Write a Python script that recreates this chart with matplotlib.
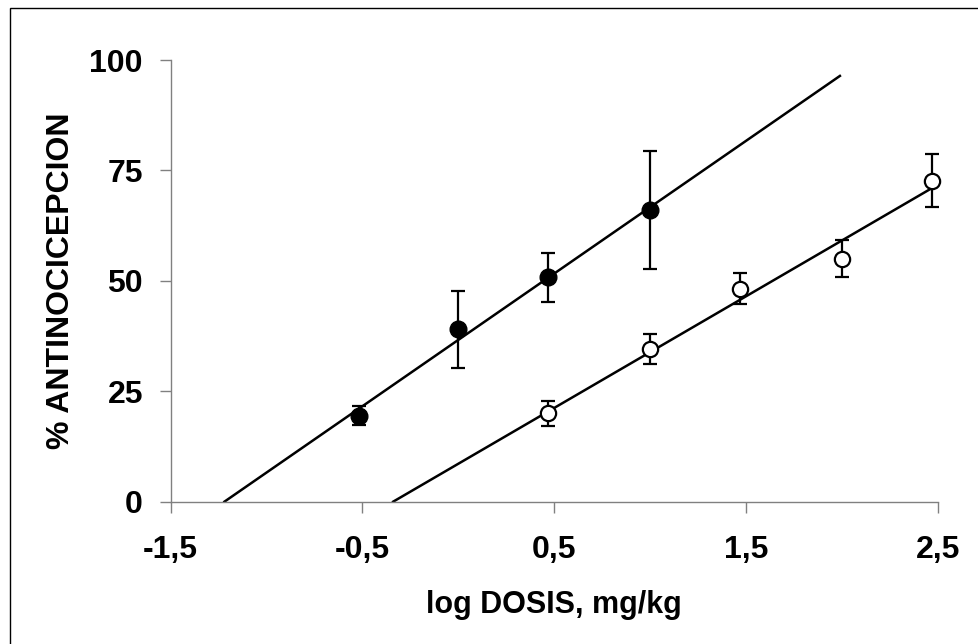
import matplotlib
matplotlib.use("Agg")
import matplotlib.pyplot as plt
from matplotlib.patches import Rectangle

plt.rcParams["font.family"] = ["Liberation Sans", "DejaVu Sans"]

# filled circles
filled_x = [-0.52, 0.0, 0.47, 1.0]
filled_y = [19.5, 39.0, 50.8, 66.1]
filled_err = [2.2, 8.8, 5.5, 13.4]
filled_fit_x = [-1.22, 1.99]
filled_fit_y = [0.0, 96.4]

# open circles
open_x = [0.47, 1.0, 1.47, 2.0, 2.47]
open_y = [20.0, 34.5, 48.2, 55.0, 72.7]
open_err = [2.8, 3.4, 3.5, 4.2, 6.0]
open_fit_x = [-0.34, 2.47]
open_fit_y = [0.0, 71.0]

xticks = [-1.5, -0.5, 0.5, 1.5, 2.5]
xtick_labels = ["-1,5", "-0,5", "0,5", "1,5", "2,5"]
yticks = [0, 25, 50, 75, 100]
ytick_labels = ["0", "25", "50", "75", "100"]

fig = plt.figure(figsize=(9.79, 6.44), dpi=100)
ax = fig.add_axes([0.1744, 0.2210, 0.9578 - 0.1744, 0.9068 - 0.2210])

ax.plot(filled_fit_x, filled_fit_y, color="black", lw=1.8, zorder=2)
ax.plot(open_fit_x, open_fit_y, color="black", lw=1.8, zorder=2)

ax.errorbar(filled_x, filled_y, yerr=filled_err, fmt="o", color="black",
            ms=12, mfc="black", mec="black", elinewidth=1.6, capsize=4.8,
            capthick=1.6, clip_on=False, zorder=3)
ax.errorbar(open_x, open_y, yerr=open_err, fmt="o", color="black",
            ms=11, mfc="white", mec="black", mew=1.6, elinewidth=1.6,
            capsize=4.8, capthick=1.6, clip_on=False, zorder=3)

ax.set_xlim(-1.5, 2.5)
ax.set_ylim(0, 100)
ax.set_xticks(xticks)
ax.set_xticklabels(xtick_labels)
ax.set_yticks(yticks)
ax.set_yticklabels(ytick_labels)

for side in ["top", "right"]:
    ax.spines[side].set_visible(False)
for side in ["left", "bottom"]:
    ax.spines[side].set_color("#808080")
    ax.spines[side].set_linewidth(1.0)

ax.tick_params(axis="both", direction="out", length=8, width=1.0,
               color="#808080", labelsize=23)
ax.tick_params(axis="x", pad=16)
ax.tick_params(axis="y", pad=12)
for lbl in ax.get_xticklabels() + ax.get_yticklabels():
    lbl.set_fontweight("bold")

ax.set_xlabel("log DOSIS, mg/kg", fontsize=22, fontweight="bold", labelpad=18)
ax.set_ylabel("% ANTINOCICEPCION", fontsize=23, fontweight="bold", labelpad=10)

# outer frame (cropped at right and bottom)
fig.patches.append(Rectangle((10 / 979, -0.1), 1.2, 1.1 - 8 / 644,
                             transform=fig.transFigure, fill=False,
                             edgecolor="black", lw=1.0))

fig.savefig("out.png", dpi=100)
